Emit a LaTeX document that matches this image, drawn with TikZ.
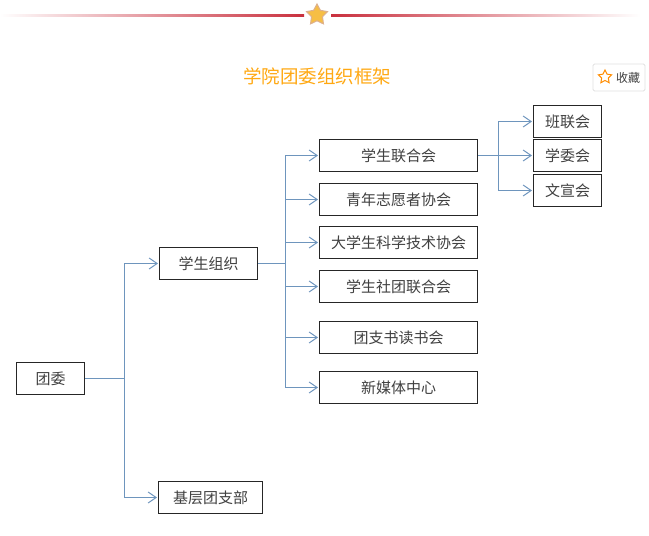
\documentclass[tikz,border=0pt]{standalone}
\usepackage{fontspec}
\usepackage{xcolor}
\setmainfont{Noto Sans CJK SC}
\usetikzlibrary{arrows.meta}
\usetikzlibrary{shapes.geometric}
\definecolor{linkblue}{HTML}{6E95BD}
\definecolor{ruled}{HTML}{C9303E}
\definecolor{titleorange}{HTML}{FFA812}
\definecolor{stargold}{HTML}{F6BE45}
\definecolor{staredge}{HTML}{DDB08E}
\tikzset{
  box/.style={draw=black!85, line width=1pt, fill=white, minimum height=32pt, inner sep=0pt, text=black!75, font=\fontsize{15}{15}\selectfont},
  link/.style={draw=linkblue, line width=1pt},
  arrow/.style={link, -{Straight Barb[length=8pt,width=11pt,line width=1pt]}, shorten >=1pt},
}
\begin{document}
\begin{tikzpicture}[x=1pt,y=-1pt]
\useasboundingbox (0,0) rectangle (649,536);
% top rule
\fill [left color=white, right color=ruled] (0,14) rectangle (304,16.5);
\fill [left color=ruled, right color=white] (331,14) rectangle (640,16.5);
\node [star, star points=5, star point ratio=1.9, minimum size=22pt, inner sep=0pt, fill=stargold, draw=staredge, line width=1pt] (topstar) at (317,15) {};
\node [text=titleorange, font=\fontsize{18.5}{18.5}\selectfont] (title) at (317,76) {学院团委组织框架};
% collect button
\node [draw=black!12, rounded corners=1.5pt, minimum width=52pt, minimum height=27pt, line width=0.8pt] (collect) at (619,77.5) {};
\node [star, star points=5, star point ratio=2, minimum size=14pt, inner sep=0pt, draw=orange!90!yellow, line width=1pt] (collectstar) at (605,77) {};
\node [text=black!75, font=\fontsize{12}{12}\selectfont] (collecttext) at (628,77.5) {收藏};
% boxes
\node [box, minimum width=68pt] (tw) at (50.5,378.5) {团委};
\node [box, minimum width=98pt] (zz) at (208.5,263.5) {学生组织};
\node [box, minimum width=104pt] (jc) at (210.5,497.5) {基层团支部};
\node [box, minimum width=158pt] (lh) at (398.5,155.5) {学生联合会};
\node [box, minimum width=158pt] (zy) at (398.5,199.5) {青年志愿者协会};
\node [box, minimum width=158pt] (kx) at (398.5,242.5) {大学生科学技术协会};
\node [box, minimum width=158pt] (st) at (398.5,286.5) {学生社团联合会};
\node [box, minimum width=158pt] (dh) at (398.5,337.5) {团支书读书会};
\node [box, minimum width=158pt] (xm) at (398.5,387.5) {新媒体中心};
\node [box, minimum width=68pt] (bl) at (567.5,121.5) {班联会};
\node [box, minimum width=68pt] (xw) at (567.5,155.5) {学委会};
\node [box, minimum width=68pt] (wx) at (567.5,190.5) {文宣会};
% connectors
\coordinate (busa) at (124.5,378.5);
\coordinate (busb) at (285.5,263.5);
\coordinate (busc) at (498.5,155.5);
\draw [link] (tw.east) -- (busa);
\draw [arrow] (busa) |- (zz.west);
\draw [arrow] (busa) |- (jc.west);
\draw [link] (zz.east) -- (busb);
\draw [arrow] (busb) |- (lh.west);
\draw [arrow] (busb) |- (zy.west);
\draw [arrow] (busb) |- (kx.west);
\draw [arrow] (busb) |- (st.west);
\draw [arrow] (busb) |- (dh.west);
\draw [arrow] (busb) |- (xm.west);
\draw [link] (lh.east) -- (busc);
\draw [arrow] (busc) |- (bl.west);
\draw [arrow] (busc) -- (xw.west);
\draw [arrow] (busc) |- (wx.west);
\end{tikzpicture}
\end{document}
